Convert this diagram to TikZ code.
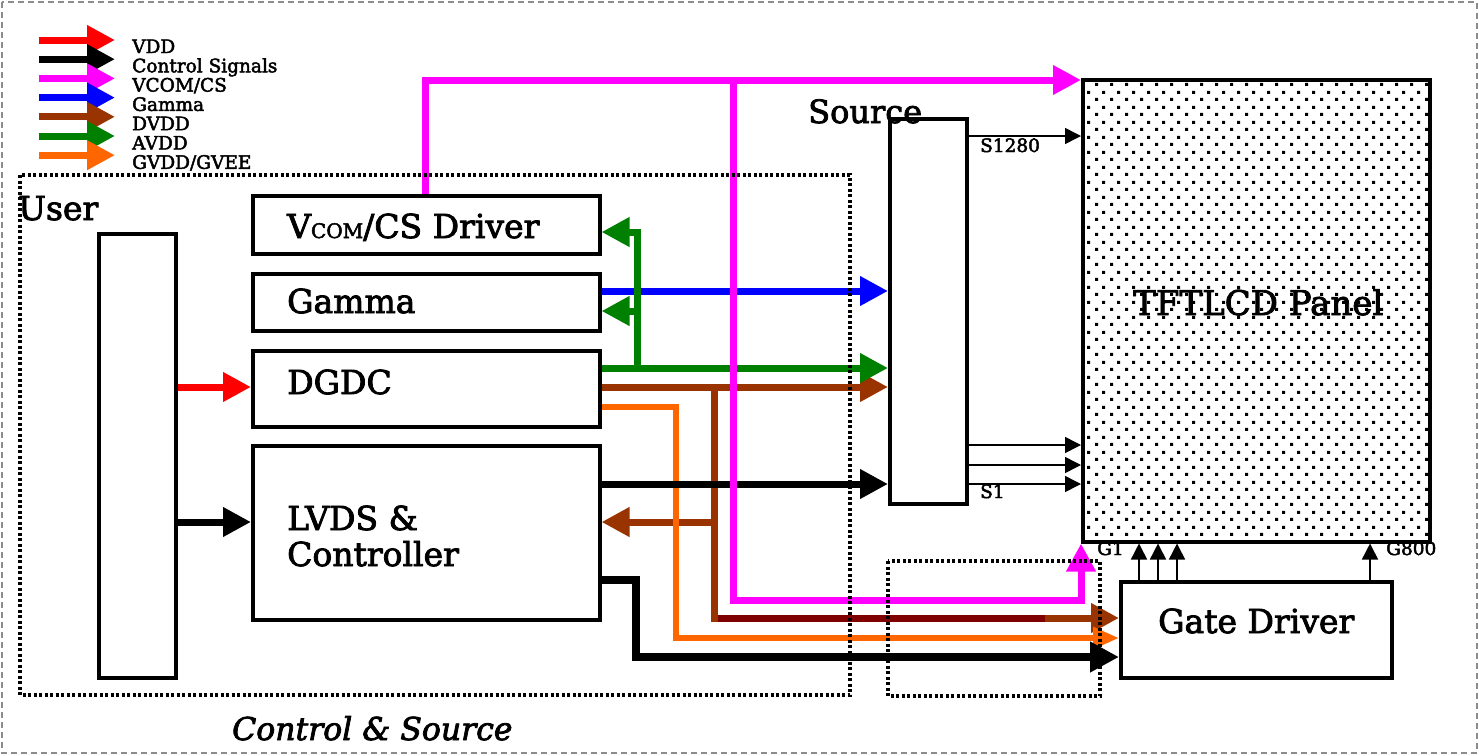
\documentclass[tikz,border=0pt]{standalone}
\usepackage{fontspec}
\setmainfont{DejaVu Serif}[FakeBold=2.5]
\usetikzlibrary{arrows.meta,patterns}

\pgfdeclarepatternformonly{paneldots}{\pgfpointorigin}{\pgfpoint{15pt}{14.6pt}}{\pgfpoint{15pt}{14.6pt}}{%
  \pgfpathrectangle{\pgfpoint{0pt}{0pt}}{\pgfpoint{3.2pt}{3.2pt}}%
  \pgfpathrectangle{\pgfpoint{7.5pt}{7.3pt}}{\pgfpoint{3.2pt}{3.2pt}}%
  \pgfusepath{fill}}

\definecolor{rd}{RGB}{255,0,0}
\definecolor{mag}{RGB}{255,0,255}
\definecolor{blu}{RGB}{0,0,255}
\definecolor{brn}{RGB}{153,51,0}
\definecolor{grn}{RGB}{0,128,0}
\definecolor{org}{RGB}{255,102,0}
\definecolor{dred}{RGB}{128,0,0}
\definecolor{framegray}{RGB}{140,140,140}

\tikzset{
  blk/.style={draw=black, line width=3.5pt, fill=white, inner sep=0pt, anchor=north west},
  fat/.style={line width=7pt, -{Triangle[length=28pt,width=28pt]}},
  thinarrow/.style={line width=1.5pt, -{Triangle[length=16pt,width=16pt]}},
  bigtxt/.style={font=\fontsize{33}{40}\selectfont, inner sep=0pt, anchor=base west},
  smalltxt/.style={font=\fontsize{18.5}{20}\selectfont, inner sep=0pt, anchor=base west},
  pintxt/.style={font=\fontsize{18.5}{20}\selectfont, inner sep=0pt, anchor=base west},
  dotbox/.style={draw=black, line width=3.5pt, dash pattern=on 3pt off 2.5pt},
}

\begin{document}
\begin{tikzpicture}[x=1pt,y=-1pt]
\useasboundingbox (0,0) rectangle (1479,755);
\draw[framegray, line width=1.5pt, dash pattern=on 6pt off 4pt] (2,2) rectangle (1477,753);

% legend
\foreach \c [count=\i] in {rd,black,mag,blu,brn,grn,org}{
  \coordinate (la\i) at (39,{40+19.2*(\i-1)});
  \coordinate (lb\i) at (115,{40+19.2*(\i-1)});
  \draw[fat, \c] (la\i) -- (lb\i);
}
\node[smalltxt] (lt1) at (132,53) {VDD};
\node[smalltxt] (lt2) at (132,72.3) {Control Signals};
\node[smalltxt] (lt3) at (132,91.6) {VCOM/CS};
\node[smalltxt] (lt4) at (132,110.9) {Gamma};
\node[smalltxt] (lt5) at (132,130.2) {DVDD};
\node[smalltxt] (lt6) at (132,149.5) {AVDD};
\node[smalltxt] (lt7) at (132,168.8) {GVDD/GVEE};

% blocks
\node[blk, minimum width=77pt, minimum height=444pt] (user) at (97,232) {};
\node[blk, minimum width=347pt, minimum height=58pt] (vcom) at (251,194) {};
\node[blk, minimum width=347pt, minimum height=57pt] (gamma) at (251,272) {};
\node[blk, minimum width=347pt, minimum height=76pt] (dgdc) at (251,349) {};
\node[blk, minimum width=347pt, minimum height=174pt] (lvds) at (251,444) {};
\node[blk, minimum width=77pt, minimum height=385pt] (source) at (888,117) {};
\node[draw=black, line width=3.5pt, pattern=paneldots, pattern color=black, inner sep=0pt, anchor=north west,
      minimum width=347pt, minimum height=462pt] (panel) at (1081,78) {};
\node[blk, minimum width=271pt, minimum height=96pt] (gate) at (1119,580) {};

% texts
\node[bigtxt] (usert) at (18,220) {User};
\node[bigtxt, font=\fontsize{32}{40}\selectfont] (sourcet) at (808,123) {Source};
\node[bigtxt] (vcomt) at (287,238) {V{\fontsize{20}{24}\selectfont COM}/CS Driver};
\node[bigtxt] (gammat) at (287,313) {Gamma};
\node[bigtxt] (dgdct) at (287,394) {DGDC};
\node[bigtxt] (lvdst) at (287,530) {LVDS \&};
\node[bigtxt] (ctrlt) at (287,566) {Controller};
\node[bigtxt] (gatet) at (1158,633) {Gate Driver};
\node[bigtxt, font=\fontsize{34}{40}\selectfont] (panelt) at (1133,315) {TFTLCD Panel};
\node[bigtxt, font=\fontsize{31.5}{40}\selectfont\itshape] (cst) at (232,740) {Control \& Source};
\node[pintxt] (s1280) at (980,152) {S1280};
\node[pintxt] (s1) at (980,498) {S1};
\node[pintxt] (g1) at (1097,555) {G1};
\node[pintxt] (g800) at (1386,555) {G800};

% thick connectors
\draw[fat, rd] (user.east |- 0,387) -- (dgdc.west |- 0,387);
\draw[fat, black] (user.east |- 0,522) -- (lvds.west |- 0,522);
\draw[fat, blu] (gamma.east |- 0,291) -- (source.west |- 0,291);
\draw[fat, brn] (dgdc.east |- 0,387) -- (source.west |- 0,387);
\draw[fat, brn] (714,387) -- (714,618) -- (gate.west |- 0,618);
\draw[line width=7pt, dred] (717.5,618) -- (1045,618);
\draw[fat, brn] (714,522) -- (lvds.east |- 0,522);
\draw[line width=6pt, org, -{Triangle[length=26pt,width=21pt]}] (dgdc.east |- 0,407) -- (676,407) -- (676,638) -- (gate.west |- 0,638);
\draw[fat, black] (lvds.east |- 0,484) -- (source.west |- 0,484);
\draw[line width=8pt, black, -{Triangle[length=29pt,width=29pt]}] (lvds.east |- 0,580) -- (636,580) -- (636,657) -- (gate.west |- 0,657);
\draw[fat, grn] (dgdc.east |- 0,368) -- (source.west |- 0,368);
\draw[fat, grn] (637,368) -- (637,232) -- (vcom.east |- 0,232);
\draw[fat, grn] (637,311) -- (gamma.east |- 0,311);
\draw[fat, mag] (vcom.north -| 425,0) -- (425,80) -- (panel.west |- 0,80);
\draw[fat, mag] (733,80) -- (733,600) -- (1081,600) -- (panel.south -| 1081,0);

% thin connectors
\foreach \yy in {136,445,465,484}{
  \draw[thinarrow] (source.east |- 0,\yy) -- (panel.west |- 0,\yy);
}
\foreach \xx in {1139,1158,1177,1370}{
  \draw[thinarrow] (gate.north -| \xx,0) -- (panel.south -| \xx,0);
}

% dotted groups
\draw[dotbox] (20,175) rectangle (850,695);
\draw[dotbox] (888,561) rectangle (1100,696);
\end{tikzpicture}
\end{document}
